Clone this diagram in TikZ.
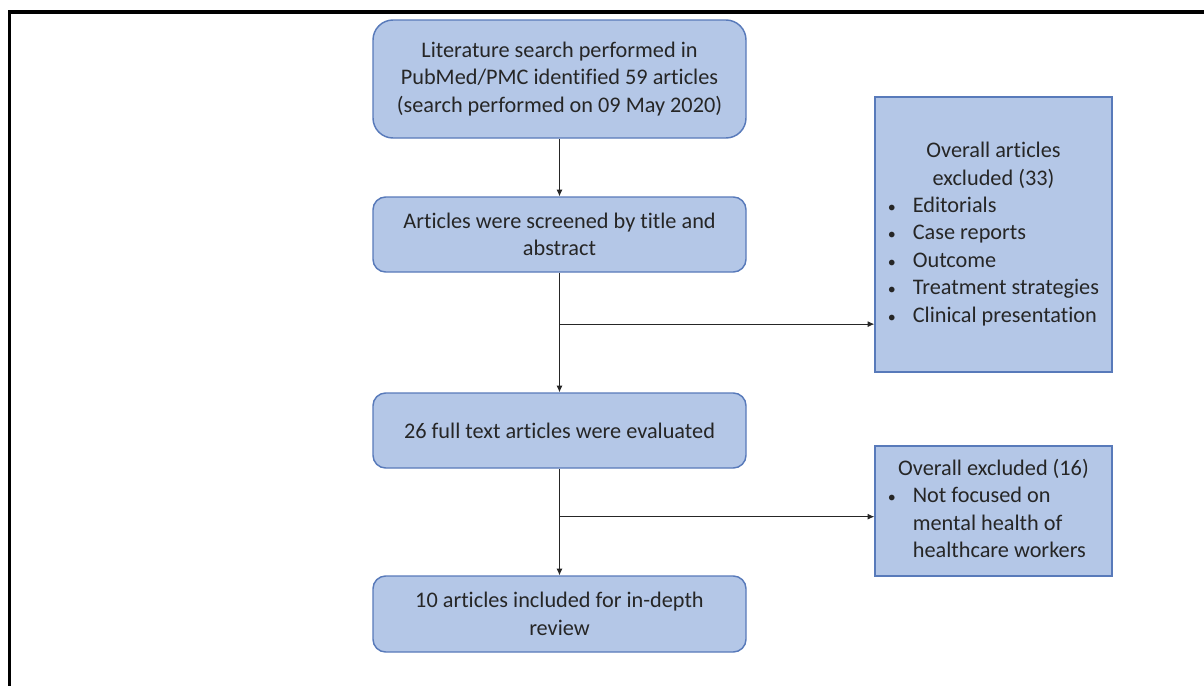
\documentclass[tikz,border=0pt]{standalone}
\usepackage{fontspec}
\setmainfont{Carlito}[Ligatures=NoCommon]
\usetikzlibrary{arrows.meta,calc}
\definecolor{boxfill}{RGB}{180,199,231}
\definecolor{boxdraw}{RGB}{88,122,186}
\definecolor{txt}{RGB}{38,38,38}
\newcommand{\blt}{\hspace*{2.2pt}{\fontsize{12pt}{12pt}\selectfont\textbullet}}
\begin{document}
\begin{tikzpicture}[x=0.75pt,y=-0.75pt,
  every node/.style={font=\fontsize{16.7pt}{20.6pt}\selectfont, text=txt},
  flowbox/.style={draw=boxdraw, fill=boxfill, line width=1.1pt, minimum width=279.75pt, align=center, inner sep=0pt},
  sidebox/.style={draw=boxdraw, fill=boxfill, line width=1.1pt, minimum width=177.75pt, inner sep=0pt},
  conn/.style={draw=black!85, line width=0.6pt},
  arr/.style={conn, -{Latex[length=5pt,width=4.5pt]}}]
\useasboundingbox (0,0) rectangle (1204,686);
% frame lines
\draw[line width=2.3pt] (8,12) -- (1204,12);
\draw[line width=2.3pt] (9.6,11) -- (9.6,686);
% main boxes
\node[flowbox, rounded corners=15pt, minimum height=88.5pt] (b1) at (559.5,79)
  {Literature search performed in\\PubMed/PMC identified 59 articles\\(search performed on 09 May 2020)};
\node[flowbox, rounded corners=9.5pt, minimum height=56.25pt] (b2) at (559.5,234.5)
  {Articles were screened by title and\\abstract};
\node[flowbox, rounded corners=9.5pt, minimum height=56.25pt] (b3) at (559.5,430.5)
  {26 full text articles were evaluated};
\node[flowbox, rounded corners=9.5pt, minimum height=57pt] (b4) at (559.5,614)
  {10 articles included for in-depth\\review};
% side boxes
\node[sidebox, minimum height=206.25pt] (sa) at (993.5,234.5)
  {\begin{tabular}{@{}p{21pt}@{}p{142pt}@{}}
   \multicolumn{2}{c}{Overall articles}\\
   \multicolumn{2}{c}{excluded (33)}\\
   \blt & Editorials\\
   \blt & Case reports\\
   \blt & Outcome\\
   \blt & Treatment strategies\\
   \blt & Clinical presentation
   \end{tabular}};
\node[sidebox, minimum height=97.5pt] (sb) at (993.5,511)
  {\begin{tabular}{@{}p{21pt}@{}p{142pt}@{}}
   \multicolumn{2}{c}{Overall excluded (16)}\\
   \blt & Not focused on\\
    & mental health of\\
    & healthcare workers
   \end{tabular}};
% connectors
\coordinate (j1) at ($(b2.south)!0.43!(b3.north)$);
\coordinate (j2) at ($(b3.south)!0.45!(b4.north)$);
\draw[arr] (b1.south) -- (b2.north);
\draw[arr] (b2.south) -- (b3.north);
\draw[arr] (b3.south) -- (b4.north);
\draw[arr] (j1) -- (j1 -| sa.west);
\draw[arr] (j2) -- (j2 -| sb.west);
\end{tikzpicture}
\end{document}
